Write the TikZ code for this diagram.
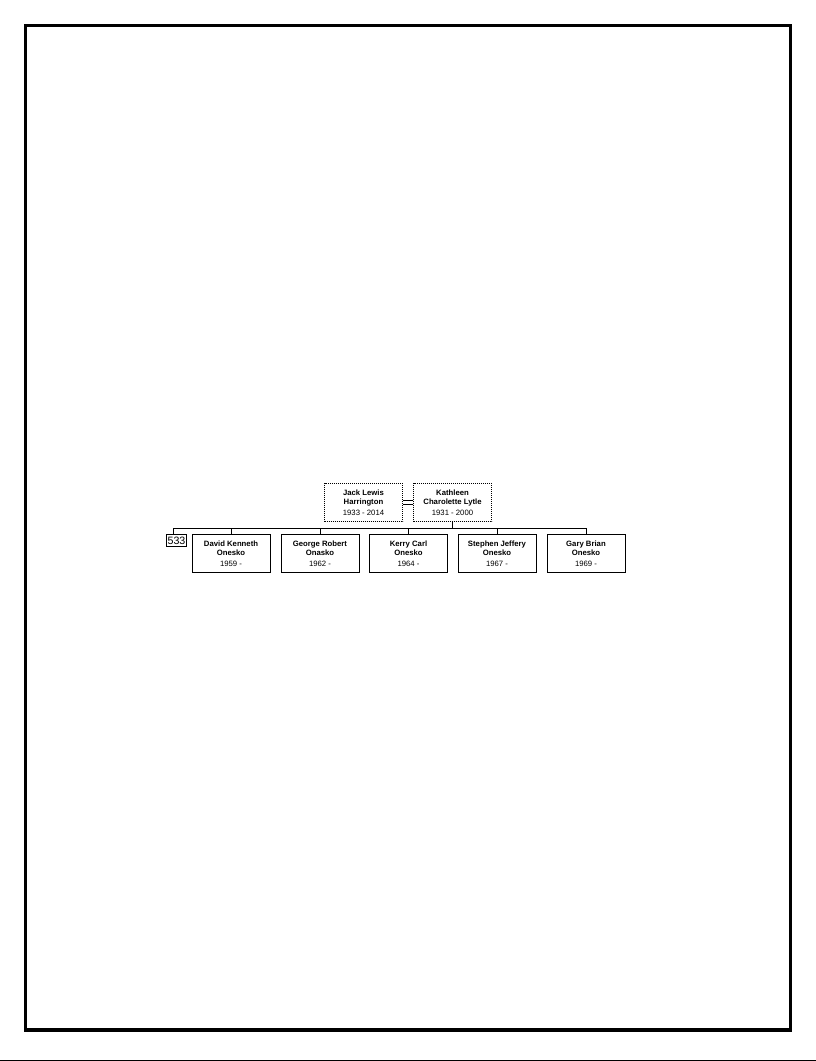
\documentclass[tikz,border=0pt]{standalone}
\usepackage{fontspec}
\setmainfont{Liberation Sans}
\usetikzlibrary{positioning}

\tikzset{
  person/.style={draw,line width=0.6pt,minimum width=58.5pt,minimum height=29pt,
    inner sep=0pt,align=center,font=\fontsize{5.8}{7}\selectfont},
  parent/.style={person,dash pattern=on 0.6pt off 0.9pt},
  famtag/.style={draw,line width=0.6pt,inner sep=0.6pt,minimum width=15.5pt,
    minimum height=9pt,font=\fontsize{8}{8}\selectfont},
}
\newcommand{\who}[3]{\textbf{#1}\\\textbf{#2}\\[1.2pt]#3}

\begin{document}
\begin{tikzpicture}[x=0.75pt,y=-0.75pt]
  \useasboundingbox (0,0) rectangle (816,1061);
  % page frame
  \draw[line width=2.3pt] (25.5,25.5) rectangle (790.5,1030);
  \draw[line width=0.7pt] (0,1060) -- (816,1060);

  % parents
  \node[parent] (jack) at (363.5,502.5) {\who{Jack Lewis}{Harrington}{1933 - 2014}};
  \node[parent] (kathleen) at (452.5,502.5) {\who{Kathleen}{Charolette Lytle}{1931 - 2000}};
  \draw[line width=0.6pt,double,double distance=1.9pt] (jack) -- (kathleen);

  % children
  \node[person] (david) at (231,553.5) {\who{David Kenneth}{Onesko}{1959 -}};
  \node[person] (george) at (320,553.5) {\who{George Robert}{Onasko}{1962 -}};
  \node[person] (kerry) at (408.5,553.5) {\who{Kerry Carl}{Onesko}{1964 -}};
  \node[person] (stephen) at (497,553.5) {\who{Stephen Jeffery}{Onesko}{1967 -}};
  \node[person] (gary) at (586,553.5) {\who{Gary Brian}{Onesko}{1969 -}};
  \node[famtag] (tag) at (176.5,540.5) {533};

  % sibling bar
  \coordinate (barL) at (173,528);
  \coordinate (barR) at (gary.north |- barL);
  \draw[line width=0.6pt] (kathleen.south) -- (kathleen.south |- barL);
  \draw[line width=0.6pt] (barL) -- (barR);
  \draw[line width=0.6pt] (barL) -- (barL |- tag.north);
  \foreach \kid in {david,george,kerry,stephen,gary}
    \draw[line width=0.6pt] (\kid.north) -- (\kid.north |- barL);
\end{tikzpicture}
\end{document}
